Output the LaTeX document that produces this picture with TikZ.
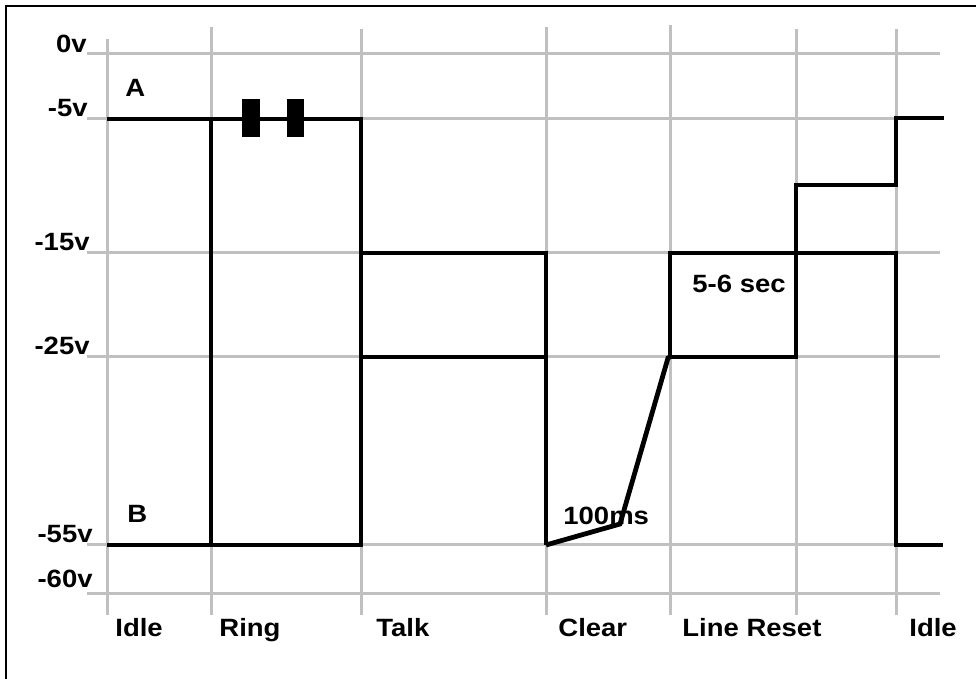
\documentclass[tikz,border=0pt]{standalone}
\usepackage{fontspec}
\setmainfont{Liberation Sans}
\newfontfamily\sigfamily[FakeStretch=1.1]{Liberation Sans}
\usetikzlibrary{positioning}

\definecolor{gridgray}{RGB}{192,192,192}
\newcommand{\sigfont}{\sigfamily\fontsize{12.5}{15}\selectfont\bfseries}

\begin{document}
\begin{tikzpicture}[x=0.5pt,y=-0.5pt,
    gridline/.style={draw=gridgray,line width=1.5pt},
    wave/.style={draw=black,line width=2.4pt,line join=miter},
    lbl/.style={font=\sigfont,inner sep=0pt}]
  \useasboundingbox (0,0) rectangle (976,679);
  % frame (only top and left edges are in view)
  \draw[line width=1.2pt] (6,679) -- (6,6) -- (976,6);

  % grid
  \foreach \gx/\gt in {107/39,211/27,361/29,546/27,670/25,796/29,896/29}
    \draw[gridline] (\gx,\gt) -- (\gx,615);
  \foreach \gy in {54,119,253,357,545,594}
    \draw[gridline] (87,\gy) -- (940,\gy);

  % voltage levels
  \node[lbl,anchor=base east] (v0)  at (87,53)  {0v};
  \node[lbl,anchor=base east] (v5)  at (88,117) {-5v};
  \node[lbl,anchor=base east] (v15) at (90,251) {-15v};
  \node[lbl,anchor=base east] (v25) at (90,355) {-25v};
  \node[lbl,anchor=base east] (v55) at (93,543) {-55v};
  \node[lbl,anchor=base east] (v60) at (93,588) {-60v};

  % states
  \node[lbl,anchor=base west] (idleA) at (115,637) {Idle};
  \node[lbl,anchor=base west] (ring)  at (219,637) {Ring};
  \node[lbl,anchor=base west] (talk)  at (376,637) {Talk};
  \node[lbl,anchor=base west] (clear) at (558,637) {Clear};
  \node[lbl,anchor=base west] (reset) at (682,637) {Line Reset};
  \node[lbl,anchor=base west] (idleB) at (909,637) {Idle};

  % wires A and B
  \draw[wave] (107,119) -- (361,119) -- (361,545) -- (211,545) -- (211,119);
  \draw[wave] (107,545) -- (211,545);
  \fill (242,99) rectangle (260,137);
  \fill (287,99) rectangle (304,137);
  \draw[wave] (361,253) -- (546,253) -- (546,545);
  \draw[wave] (361,357) -- (546,357);
  \draw[wave] (546,545) -- (620,524) -- (668,358) -- (670,357);
  \draw[wave] (670,357) -- (796,357) -- (796,185) -- (896,185) -- (896,118) -- (944,118);
  \draw[wave] (670,357) -- (670,253) -- (896,253) -- (896,545) -- (943,545);

  \node[lbl,anchor=base west] (wa) at (125,97)  {A};
  \node[lbl,anchor=base west] (wb) at (127,523) {B};
  \node[lbl,anchor=base west] (t100) at (563,524) {100ms};
  \node[lbl,anchor=base west] (t56)  at (692,293) {5-6 sec};
\end{tikzpicture}
\end{document}
